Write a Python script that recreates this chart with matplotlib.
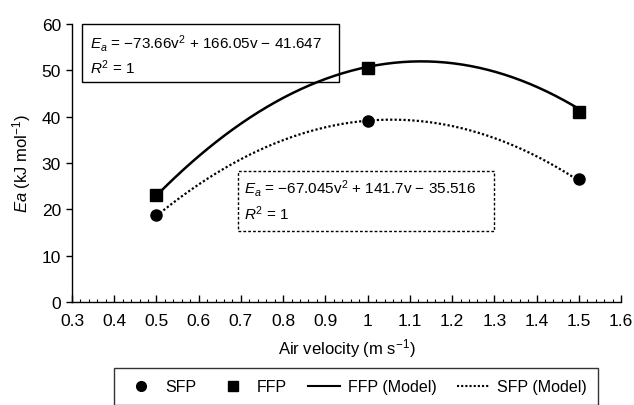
import matplotlib
matplotlib.use("Agg")
import matplotlib.pyplot as plt
import numpy as np
from matplotlib.lines import Line2D
from matplotlib.patches import Rectangle
from matplotlib.ticker import MultipleLocator

FONT = ['Liberation Sans', 'DejaVu Sans']
plt.rcParams['font.family'] = FONT
plt.rcParams['mathtext.fontset'] = 'custom'
plt.rcParams['mathtext.rm'] = 'Liberation Sans'
plt.rcParams['mathtext.it'] = 'Liberation Sans:italic'
plt.rcParams['mathtext.bf'] = 'Liberation Sans:bold'

# Data
velocity = [0.5, 1.0, 1.5]
sfp = [18.7, 39.0, 26.5]
ffp = [23.0, 50.4, 41.0]
# Model coefficients (a*v^2 + b*v + c) as shown in the chart
ffp_coef = [-73.66, 166.05, -41.647]
sfp_coef = [-67.045, 141.7, -35.516]
xticks = [0.3, 0.4, 0.5, 0.6, 0.7, 0.8, 0.9, 1.0, 1.1, 1.2, 1.3, 1.4, 1.5, 1.6]
xticklabels = ['0.3', '0.4', '0.5', '0.6', '0.7', '0.8', '0.9', '1', '1.1', '1.2', '1.3', '1.4', '1.5', '1.6']
yticks = [0, 10, 20, 30, 40, 50, 60]

W, H = 634, 406
fig = plt.figure(figsize=(W / 100, H / 100), dpi=100)
ax = fig.add_axes([72 / W, 1 - 303 / H, (621 - 72) / W, (303 - 25) / H])

vv = np.linspace(min(velocity), max(velocity), 200)
ax.plot(vv, np.polyval(ffp_coef, vv), color='black', lw=1.8, ls='-')
ax.plot(vv, np.polyval(sfp_coef, vv), color='black', lw=1.6, ls=(0, (1, 1.0)))
ax.plot(velocity, ffp, 's', color='black', ms=8)
ax.plot(velocity, sfp, 'o', color='black', ms=8)

ax.set_xlim(0.3, 1.6)
ax.set_ylim(0, 60)
ax.set_xticks(xticks)
ax.set_xticklabels(xticklabels)
ax.set_yticks(yticks)
ax.xaxis.set_minor_locator(MultipleLocator(0.02))
ax.tick_params(axis='x', which='major', direction='in', length=5, width=1, labelsize=12.5, pad=8)
ax.tick_params(axis='x', which='minor', direction='in', length=2.5, width=0.8)
ax.tick_params(axis='y', which='major', direction='out', length=4, width=1, labelsize=12.5, pad=4)
for s in ['top', 'right']:
    ax.spines[s].set_visible(False)
for s in ['left', 'bottom']:
    ax.spines[s].set_linewidth(1.0)

ax.set_xlabel('Air velocity (m s$^{-1}$)', fontsize=12, labelpad=6)
ax.set_ylabel(r'$\mathit{Ea}$ (kJ mol$^{-1}$)', fontsize=12, labelpad=6)

# Equation boxes
def fx(px):
    return px / W

def fy(py):
    return 1 - py / H

EQ_FS = 11
fig.patches.append(Rectangle((fx(82), fy(83)), fx(339) - fx(82), fy(25) - fy(83),
                             transform=fig.transFigure, fill=False, ec='black', lw=1.0))
fig.text(fx(90), fy(43), r'$E_a$ = −73.66v$^2$ + 166.05v − 41.647', fontsize=EQ_FS, va='center')
fig.text(fx(90), fy(68), r'$R^2$ = 1', fontsize=EQ_FS, va='center')

fig.patches.append(Rectangle((fx(238), fy(232)), fx(494) - fx(238), fy(172) - fy(232),
                             transform=fig.transFigure, fill=False, ec='black', lw=1.0,
                             ls=(0, (2, 1.5))))
fig.text(fx(244), fy(189), r'$E_a$ = −67.045v$^2$ + 141.7v − 35.516', fontsize=EQ_FS, va='center')
fig.text(fx(244), fy(214), r'$R^2$ = 1', fontsize=EQ_FS, va='center')

handles = [
    Line2D([], [], ls='none', marker='o', color='black', ms=7),
    Line2D([], [], ls='none', marker='s', color='black', ms=7),
    Line2D([], [], ls='-', color='black', lw=1.5),
    Line2D([], [], ls=(0, (1, 1.0)), color='black', lw=1.5),
]
labels = ['SFP', 'FFP', 'FFP (Model)', 'SFP (Model)']
leg = fig.legend(handles, labels, loc='upper center', bbox_to_anchor=(fx(356), fy(369)),
                 ncol=4, frameon=True, fancybox=False, edgecolor='black', fontsize=11.5,
                 handlelength=2.0, handletextpad=0.5, columnspacing=1.3, borderpad=0.7,
                 borderaxespad=0)
leg.get_frame().set_linewidth(1.0)

fig.savefig('out.png', dpi=100)
